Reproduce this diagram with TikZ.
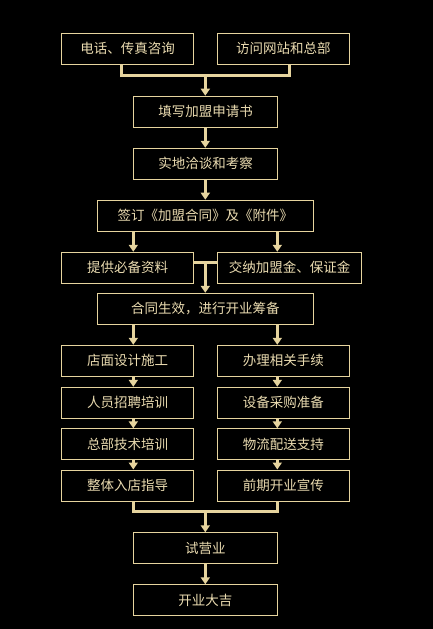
\documentclass[tikz,border=0pt]{standalone}
\usepackage{fontspec}
\setmainfont{Noto Sans CJK SC}
\usetikzlibrary{arrows.meta}
\definecolor{gold}{HTML}{E6D49E}
\definecolor{txt}{HTML}{EADBB0}
\begin{document}
\begin{tikzpicture}[x=1pt,y=-1pt,
  box/.style={draw=gold,line width=1pt,minimum height=31pt,inner sep=0pt,text=txt,font=\fontsize{13.5}{14}\selectfont},
  bw/.style={box,minimum width=132pt},
  ww/.style={box,minimum width=144pt},
  xw/.style={box,minimum width=216pt},
  conn/.style={draw=gold,line width=3pt},
  arr/.style={conn,-{Triangle[width=9pt,length=7pt]}}]
\fill[black] (0,0) rectangle (433,629);
\useasboundingbox (0,0) rectangle (433,629);
\coordinate (L) at (133.3,0);
\coordinate (R) at (277.3,0);
\coordinate (M) at (205.3,0);
\node[bw] (b1) at (127.5,48.8) {电话、传真咨询};
\node[bw] (b2) at (283.3,48.8) {访问网站和总部};
\node[ww] (b3) at (205.5,111.7) {填写加盟申请书};
\node[ww] (b4) at (205.5,163.8) {实地洽谈和考察};
\node[xw] (b5) at (205.3,215.7) {签订《加盟合同》及《附件》};
\node[bw] (b6) at (127.5,267.8) {提供必备资料};
\node[ww] (b7) at (289.5,267.8) {交纳加盟金、保证金};
\node[xw] (b8) at (205.3,308.8) {合同生效，进行开业筹备};
\node[bw] (l1) at (127.5,360.8) {店面设计施工};
\node[bw] (l2) at (127.5,402.8) {人员招聘培训};
\node[bw] (l3) at (127.5,444.3) {总部技术培训};
\node[bw] (l4) at (127.5,485.5) {整体入店指导};
\node[bw] (r1) at (283.3,360.8) {办理相关手续};
\node[bw] (r2) at (283.3,402.8) {设备采购准备};
\node[bw] (r3) at (283.3,444.3) {物流配送支持};
\node[bw] (r4) at (283.3,485.5) {前期开业宣传};
\node[ww] (b9) at (205.3,548.3) {试营业};
\node[ww] (b10) at (205.3,600.3) {开业大吉};
% top join
\coordinate (j1) at (205.3,75.7);
\draw[conn] ([xshift=-5.8pt]b1.south) |- (j1) -| ([xshift=6pt]b2.south);
\draw[arr] (j1) -- (b3.north -| j1);
\draw[arr] (b3.south -| M) -- (b4.north -| M);
\draw[arr] (b4.south -| M) -- (b5.north -| M);
\draw[arr] (b5.south -| L) -- (b6.north -| L);
\draw[arr] (b5.south -| R) -- (b7.north -| R);
% middle join
\coordinate (j2) at (205.3,262.3);
\draw[conn] (b6.east |- j2) -- (b7.west |- j2);
\draw[arr] (j2) -- (b8.north -| j2);
\draw[arr] (b8.south -| L) -- (l1.north -| L);
\draw[arr] (b8.south -| R) -- (r1.north -| R);
\draw[arr] (l1.south -| L) -- (l2.north -| L);
\draw[arr] (l2.south -| L) -- (l3.north -| L);
\draw[arr] (l3.south -| L) -- (l4.north -| L);
\draw[arr] (r1.south -| R) -- (r2.north -| R);
\draw[arr] (r2.south -| R) -- (r3.north -| R);
\draw[arr] (r3.south -| R) -- (r4.north -| R);
% bottom join
\coordinate (j3) at (205.3,511.7);
\draw[conn] (l4.south -| L) |- (j3) -| (r4.south -| R);
\draw[arr] (j3) -- (b9.north -| j3);
\draw[arr] (b9.south -| M) -- (b10.north -| M);
\end{tikzpicture}
\end{document}
